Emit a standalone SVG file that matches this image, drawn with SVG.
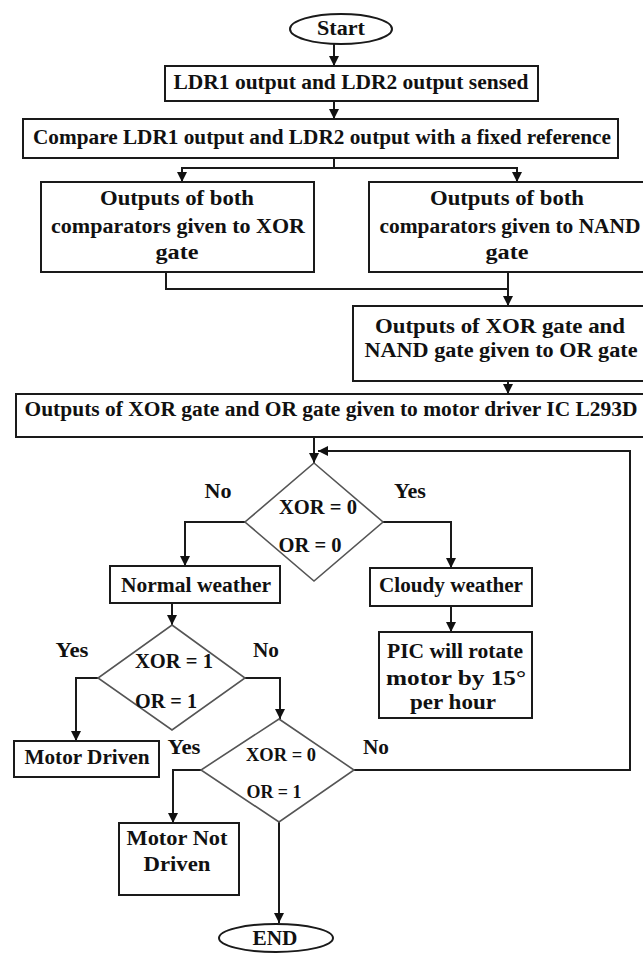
<svg xmlns="http://www.w3.org/2000/svg" width="643" height="953" viewBox="0 0 643 953">
<style>
.box{fill:#fff;stroke:#1a1a1a;stroke-width:2}
.dia{fill:#fff;stroke:#555;stroke-width:1.6}
text{font-family:'Liberation Serif','Times New Roman',Times,serif;font-weight:bold;font-size:20px;fill:#111;text-anchor:middle}
.s{font-size:18px}
.c{fill:none;stroke:#1a1a1a;stroke-width:2}
</style>
<defs>
<marker id="ah" viewBox="0 0 10 10" refX="10" refY="5" markerWidth="5" markerHeight="5" markerUnits="strokeWidth" orient="auto">
<path d="M0,0 L10,5 L0,10 Z" fill="#111"/>
</marker>
</defs>
<rect width="643" height="953" fill="#fff"/>
<g id="connectors">
<path class="c" d="M334,44 V66" marker-end="url(#ah)"/>
<path class="c" d="M334,101 V119" marker-end="url(#ah)"/>
<path class="c" d="M334,158 V168 H182 V182" marker-end="url(#ah)"/>
<path class="c" d="M334,168 H517 V182" marker-end="url(#ah)"/>
<path class="c" d="M166,272 V289 H508"/>
<path class="c" d="M508,272 V306" marker-end="url(#ah)"/>
<path class="c" d="M508,381 V394" marker-end="url(#ah)"/>
<path class="c" d="M314,437 V463" marker-end="url(#ah)"/>
<path class="c" d="M354,770 H630 V451 H318" marker-end="url(#ah)"/>
<path class="c" d="M245,522 H185 V566" marker-end="url(#ah)"/>
<path class="c" d="M383,522 H451 V568" marker-end="url(#ah)"/>
<path class="c" d="M172,603 V625" marker-end="url(#ah)"/>
<path class="c" d="M451,606 V632" marker-end="url(#ah)"/>
<path class="c" d="M98,678 H76 V741" marker-end="url(#ah)"/>
<path class="c" d="M245,678 H280 V719" marker-end="url(#ah)"/>
<path class="c" d="M201,770 H173 V823" marker-end="url(#ah)"/>
<path class="c" d="M279,822 V923" marker-end="url(#ah)"/>
</g>
<g id="start">
<ellipse class="box" cx="341" cy="29" rx="51" ry="15"/>
<text x="341" y="35" font-family="Liberation Serif, serif" textLength="48" lengthAdjust="spacingAndGlyphs">Start</text>
</g>
<g id="sense">
<rect class="box" x="165" y="66" width="373" height="35"/>
<text x="351" y="89" font-family="Liberation Serif, serif" textLength="355" lengthAdjust="spacingAndGlyphs">LDR1 output and LDR2 output sensed</text>
</g>
<g id="compare">
<rect class="box" x="23" y="119" width="595" height="39"/>
<text x="322" y="144" font-family="Liberation Serif, serif" textLength="578" lengthAdjust="spacingAndGlyphs">Compare LDR1 output and LDR2 output with a fixed reference</text>
</g>
<g id="xor" font-family="Liberation Serif, serif">
<rect class="box" x="41" y="182" width="273" height="90"/>
<text x="177" y="205" textLength="154" lengthAdjust="spacingAndGlyphs">Outputs of both</text>
<text x="178" y="233" textLength="254" lengthAdjust="spacingAndGlyphs">comparators given to  XOR</text>
<text x="177" y="259" textLength="43" lengthAdjust="spacingAndGlyphs">gate</text>
</g>
<g id="nand">
<rect class="box" x="369" y="182" width="290" height="90"/>
<text x="507" y="205" textLength="154" lengthAdjust="spacingAndGlyphs">Outputs of both</text>
<text x="510" y="233" textLength="261" lengthAdjust="spacingAndGlyphs">comparators given to NAND</text>
<text x="507" y="259" textLength="43" lengthAdjust="spacingAndGlyphs">gate</text>
</g>
<g id="or">
<rect class="box" x="353" y="306" width="306" height="75"/>
<text x="500" y="333" textLength="250" lengthAdjust="spacingAndGlyphs">Outputs of XOR gate and</text>
<text x="501" y="357" textLength="273" lengthAdjust="spacingAndGlyphs">NAND gate given to  OR gate</text>
</g>
<g id="driver">
<rect class="box" x="16" y="394" width="643" height="43"/>
<text x="331" y="416" textLength="613" lengthAdjust="spacingAndGlyphs">Outputs of XOR gate and OR gate given to motor driver IC L293D</text>
</g>
<g id="dec1">
<polygon class="dia" points="314,463 383,522 314,581 245,522"/>
<text x="318" y="514" textLength="78" lengthAdjust="spacingAndGlyphs">XOR = 0</text>
<text x="310" y="552" textLength="63" lengthAdjust="spacingAndGlyphs">OR = 0</text>
<text x="218" y="498" textLength="27" lengthAdjust="spacingAndGlyphs">No</text>
<text x="410" y="498" textLength="32" lengthAdjust="spacingAndGlyphs">Yes</text>
</g>
<g id="normal">
<rect class="box" x="110" y="566" width="170" height="37"/>
<text x="196" y="592" textLength="150" lengthAdjust="spacingAndGlyphs">Normal weather</text>
</g>
<g id="cloudy">
<rect class="box" x="370" y="568" width="162" height="38"/>
<text x="451" y="592" textLength="144" lengthAdjust="spacingAndGlyphs">Cloudy weather</text>
</g>
<g id="pic">
<rect class="box" x="379" y="632" width="153" height="86"/>
<text x="455" y="658" textLength="136" lengthAdjust="spacingAndGlyphs">PIC will rotate</text>
<text x="456" y="685" textLength="140" lengthAdjust="spacingAndGlyphs">motor by 15°</text>
<text x="453" y="709" textLength="86" lengthAdjust="spacingAndGlyphs">per hour</text>
</g>
<g id="dec2">
<polygon class="dia" points="172,625 245,678 172,730 98,678"/>
<text x="174" y="668" textLength="78" lengthAdjust="spacingAndGlyphs">XOR = 1</text>
<text x="166" y="708" textLength="62" lengthAdjust="spacingAndGlyphs">OR = 1</text>
<text x="72" y="657" textLength="33" lengthAdjust="spacingAndGlyphs">Yes</text>
<text x="266" y="657" textLength="26" lengthAdjust="spacingAndGlyphs">No</text>
</g>
<g id="driven">
<rect class="box" x="14" y="741" width="145" height="36"/>
<text x="87" y="764" textLength="125" lengthAdjust="spacingAndGlyphs">Motor Driven</text>
</g>
<g id="dec3">
<polygon class="dia" points="279,719 354,770 279,822 201,770"/>
<text class="s" x="281" y="761" textLength="70" lengthAdjust="spacingAndGlyphs">XOR = 0</text>
<text class="s" x="274" y="798" textLength="55" lengthAdjust="spacingAndGlyphs">OR = 1</text>
<text x="184" y="754" textLength="33" lengthAdjust="spacingAndGlyphs">Yes</text>
<text x="376" y="754" textLength="26" lengthAdjust="spacingAndGlyphs">No</text>
</g>
<g id="notdriven">
<rect class="box" x="119" y="823" width="120" height="72"/>
<text x="177" y="845" textLength="101" lengthAdjust="spacingAndGlyphs">Motor Not</text>
<text x="177" y="871" textLength="67" lengthAdjust="spacingAndGlyphs">Driven</text>
</g>
<g id="end">
<ellipse class="box" cx="276" cy="938" rx="57" ry="14"/>
<text x="275" y="945" textLength="45" lengthAdjust="spacingAndGlyphs">END</text>
</g>
</svg>
